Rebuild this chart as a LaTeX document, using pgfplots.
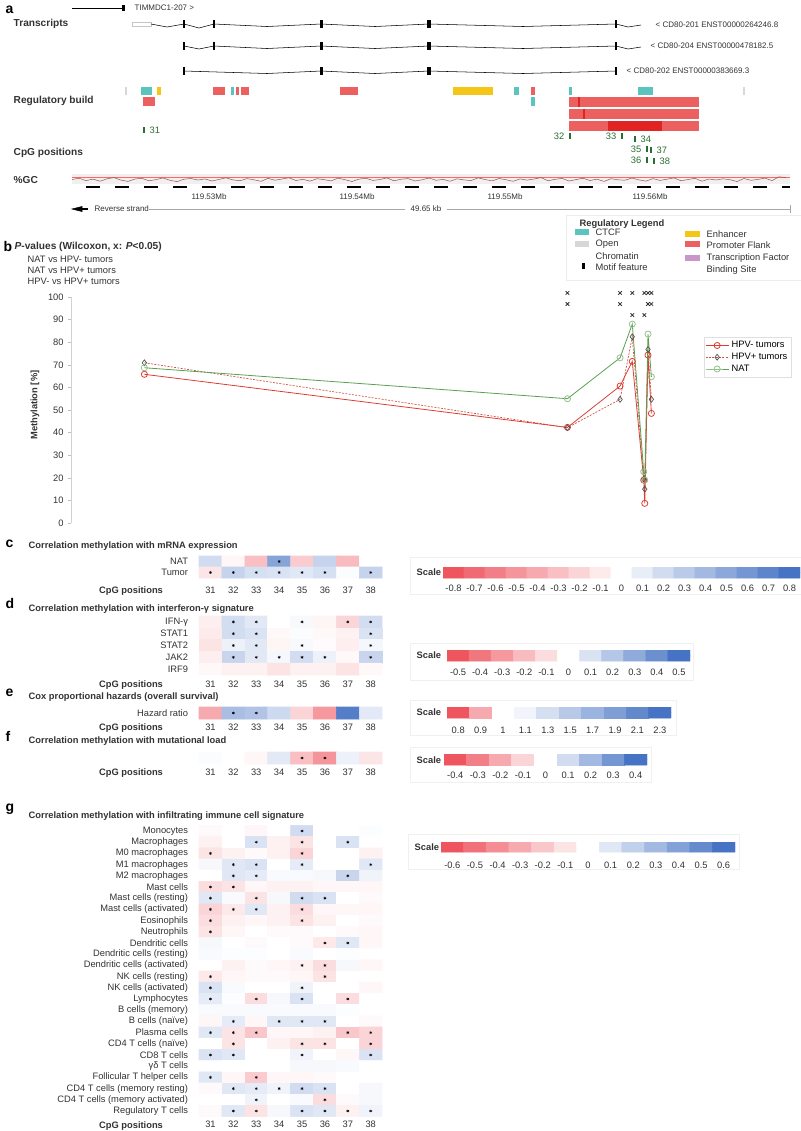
\documentclass[border=0pt]{standalone}
\usepackage{pgfplots}
\pgfplotsset{compat=1.18}
\usepackage{fontspec}
\setmainfont{Liberation Sans}
\definecolor{ctcf}{RGB}{92,196,190}
\definecolor{enh}{RGB}{245,197,24}
\definecolor{prom}{RGB}{236,96,96}
\definecolor{promd}{RGB}{225,35,35}
\definecolor{openc}{RGB}{215,215,215}
\definecolor{tfbs}{RGB}{200,150,200}
\definecolor{cpg}{RGB}{40,110,50}
\definecolor{hpvneg}{RGB}{222,60,50}
\definecolor{hpvpos}{RGB}{205,80,65}
\definecolor{natc}{RGB}{90,160,80}
\definecolor{txt}{RGB}{50,50,50}
\definecolor{gcline}{RGB}{160,70,55}
\pgfplotsset{colormap={hr}{rgb255(0cm)=(238,85,95) rgb255(2cm)=(255,255,255) rgb255(15cm)=(70,115,195)}}
\pgfplotsset{colormap={rb}{rgb255(0cm)=(238,85,95) rgb255(1cm)=(255,255,255) rgb255(2cm)=(70,115,195)}}
\pgfplotsset{/pgf/number format/assume math mode=true}
\newcommand{\fa}{\fontsize{7}{8}\selectfont}
\newcommand{\fb}{\fontsize{7}{8}\selectfont}
\newcommand{\fc}{\fontsize{7.6}{8.6}\selectfont}
\newcommand{\fsm}{\fontsize{6}{7}\selectfont}
\newcommand{\fl}{\fontsize{10.5}{11}\selectfont\bfseries}
\newcommand{\rect}[5]{\addplot[draw=none, fill=#5] coordinates {(#1,#3) (#2,#3) (#2,#4) (#1,#4)} -- cycle;}
\newcommand{\seg}[4]{\addplot[black, line width=0.4pt] coordinates {(#1,#2) (#3,#4)};}
\pgfplotsset{
  heat/.style={scale only axis, width=137.4pt, xmin=30.5, xmax=38.5, y dir=reverse,
    axis line style={draw=none}, major tick length=0pt, xtick={31,...,38},
    xticklabels={31,32,33,34,35,36,37,38}, tick label style={font=\fa, text=txt},
    yticklabel style={xshift=-4.7pt}, colormap name=rb, clip=false, enlargelimits=false},
  sc/.style={scale only axis, ymin=-0.5, ymax=1.5, axis line style={draw=none},
    major tick length=0pt, ytick=\empty, colormap name=rb, tick label style={font=\fa, text=txt},
    enlargelimits=false, xticklabel style={yshift=-2pt}},
  star/.style={only marks, mark=asterisk, mark size=1.1pt, black, mark options={line width=0.35pt}},
}
\begin{document}
\begin{tikzpicture}[x=0.75pt,y=-0.75pt]
\path[use as bounding box] (0,0) rectangle (800,1131);
% ---------------- overlay in pixel coordinates: panel a, legends, titles
\begin{axis}[at={(0pt,0pt)}, anchor=north west, scale only axis, width=600pt, height=848.25pt,
  xmin=0, xmax=800, ymin=0, ymax=1131, y dir=reverse, hide axis, clip=false]
\node[anchor=west, font=\fl] at (1,10) {a};
% TIMMDC1
\seg{72}{8}{122}{8}
\rect{122}{124.5}{5}{11}{black}
\node[anchor=west, font=\fsm, text=txt] at (130,8) {TIMMDC1-207 >};
\node[anchor=west, font=\bfseries\fc, text=txt] at (9,24) {Transcripts};
% transcript 1
\addplot[draw=gray!45, line width=0.4pt] coordinates {(132,22) (151,22) (151,26) (132,26)} -- cycle;
\addplot[black, line width=0.4pt] coordinates {(151,24) (167,27) (184,24) (199,28) (214,24) (267,26.5) (321,24) (375,26.5) (429,24) (523,26.5) (616,24) (628,27) (641,25)};
\rect{183.3}{184.7}{20}{28}{black}
\rect{213.3}{214.7}{20}{28}{black}
\rect{319.5}{323}{20}{28}{black}
\rect{427}{430.5}{20}{28}{black}
\rect{615.3}{616.7}{20}{28}{black}
\node[anchor=west, font=\fsm, text=txt] at (651,25) {< CD80-201 ENST00000264246.8};
% transcript 2
\addplot[black, line width=0.4pt] coordinates {(184,46) (199,49) (214,46) (267,48.5) (321,46) (375,48.5) (429,46) (523,48.5) (616,46) (628,49) (641,47)};
\rect{183.3}{184.7}{42}{50}{black}
\rect{213.3}{214.7}{42}{50}{black}
\rect{319.5}{323}{42}{50}{black}
\rect{427}{430.5}{42}{50}{black}
\rect{615.3}{616.7}{42}{50}{black}
\node[anchor=west, font=\fsm, text=txt] at (646,46) {< CD80-204 ENST00000478182.5};
% transcript 3
\addplot[black, line width=0.4pt] coordinates {(184,71) (267,73.5) (321,71) (375,73.5) (429,71) (523,73.5) (616,71)};
\rect{183.3}{184.7}{67}{75}{black}
\rect{319.5}{323}{67}{75}{black}
\rect{427}{430.5}{67}{75}{black}
\rect{615.3}{616.7}{67}{75}{black}
\node[anchor=west, font=\fsm, text=txt] at (622,71) {< CD80-202 ENST00000383669.3};
% regulatory build
\rect{124.5}{126.5}{87}{95}{openc}
\rect{141}{152}{87}{95}{ctcf}
\rect{157}{161}{87}{95}{enh}
\rect{213}{225}{87}{95}{prom}
\rect{231}{234}{87}{95}{ctcf}
\rect{236}{239}{87}{95}{prom}
\rect{241}{249}{87}{95}{prom}
\rect{340}{358}{87}{95}{prom}
\rect{453}{493}{87}{95}{enh}
\rect{514}{519}{87}{95}{ctcf}
\rect{531}{535}{87}{95}{prom}
\rect{569}{572}{87}{95}{ctcf}
\rect{638}{653}{87}{95}{ctcf}
\rect{743}{745}{87}{95}{openc}
\rect{143}{155}{97}{106}{prom}
\rect{531}{535}{97}{106}{ctcf}
\rect{569}{699}{97}{107}{prom}
\rect{569}{699}{109}{119}{prom}
\rect{569}{699}{121}{131}{prom}
\rect{578}{580}{97}{107}{promd}
\rect{583}{585}{109}{119}{promd}
\rect{608}{662}{121}{131}{promd}
\node[anchor=west, font=\bfseries\fc, text=txt] at (9,101) {Regulatory build};
% CpG positions
\addplot[cpg, line width=0.8pt] coordinates {(144,127) (144,133)};
\addplot[cpg, line width=0.8pt] coordinates {(570,133) (570,139)};
\addplot[cpg, line width=0.8pt] coordinates {(622,133) (622,139)};
\addplot[cpg, line width=0.8pt] coordinates {(635,136) (635,142)};
\addplot[cpg, line width=0.8pt] coordinates {(647,146) (647,152)};
\addplot[cpg, line width=0.8pt] coordinates {(651,147) (651,153)};
\addplot[cpg, line width=0.8pt] coordinates {(647,157) (647,163)};
\addplot[cpg, line width=0.8pt] coordinates {(654,158) (654,164)};
\node[anchor=west, font=\fb, text=cpg] at (145,130) {31};
\node[anchor=east, font=\fb, text=cpg] at (569,136) {32};
\node[anchor=east, font=\fb, text=cpg] at (621,136) {33};
\node[anchor=west, font=\fb, text=cpg] at (636,139) {34};
\node[anchor=east, font=\fb, text=cpg] at (646,149) {35};
\node[anchor=west, font=\fb, text=cpg] at (652,150) {37};
\node[anchor=east, font=\fb, text=cpg] at (646,160) {36};
\node[anchor=west, font=\fb, text=cpg] at (655,161) {38};
\node[anchor=west, font=\bfseries\fc, text=txt] at (9,153) {CpG positions};
% GC track
\node[anchor=west, font=\bfseries\fc, text=txt] at (9,180) {\%GC};
\rect{72}{790}{174}{184}{gray!12}
\addplot[red!60, line width=0.3pt] coordinates {(72,177.5) (790,177.5)};
\addplot[gcline, line width=0.35pt] coordinates {
(72,179.5) (79,178.2) (86,180.6) (93,179.1) (100,181.2) (107,178.8) (114,177.6) (121,180.1) (128,181.4) (135,179.0)
(142,178.3) (149,180.8) (156,179.6) (163,177.9) (170,180.3) (177,181.6) (184,179.2) (191,178.5) (198,180.0) (205,178.9)
(212,181.0) (219,179.4) (226,177.8) (233,179.9) (240,180.7) (247,178.6) (254,179.8) (261,181.3) (268,178.4) (275,180.2)
(282,179.0) (289,177.7) (296,180.5) (303,179.3) (310,181.1) (317,178.7) (324,179.6) (331,180.9) (338,178.1) (345,179.7)
(352,181.5) (359,179.1) (366,178.3) (373,180.4) (380,179.5) (387,177.9) (394,180.8) (401,179.2) (408,178.6) (415,181.0)
(422,179.8) (429,178.0) (436,180.3) (443,179.4) (450,181.2) (457,178.8) (464,179.9) (471,180.6) (478,177.8) (485,179.5)
(492,180.9) (499,178.5) (506,179.7) (513,181.3) (520,178.9) (527,180.1) (534,179.0) (541,177.6) (548,180.7) (555,179.3)
(562,178.4) (569,181.0) (576,179.6) (583,178.2) (590,180.5) (597,179.1) (604,181.4) (611,178.7) (618,179.8) (625,180.2)
(632,178.0) (639,179.9) (646,181.1) (653,178.6) (660,180.4) (667,179.2) (674,177.9) (681,180.8) (688,179.5) (695,178.3)
(702,181.2) (709,179.0) (716,180.0) (723,178.8) (730,179.7) (737,181.5) (744,178.5) (751,180.3) (758,179.4) (765,178.1)
(772,180.6) (779,176.8) (786,177.5)};
\addplot[black, line width=2.2pt, dash pattern=on 10.5pt off 11.25pt] coordinates {(86,187) (790,187)};
\node[font=\fsm, text=txt] at (209,197) {119.53Mb};
\node[font=\fsm, text=txt] at (357,197) {119.54Mb};
\node[font=\fsm, text=txt] at (505,197) {119.55Mb};
\node[font=\fsm, text=txt] at (650,197) {119.56Mb};
\addplot[black, fill=black] coordinates {(72,209) (82,206.5) (82,211.5)} -- cycle;
\addplot[black, line width=1pt] coordinates {(80,209) (88,209)};
\node[anchor=west, font=\fsm, text=txt] at (90,209) {Reverse strand};
\addplot[gray!70, line width=0.4pt] coordinates {(149,209) (405,209)};
\node[font=\fsm, text=txt] at (426,209) {49.65 kb};
\addplot[gray!70, line width=0.4pt] coordinates {(447,209) (790,209)};
\addplot[gray!70, line width=0.4pt] coordinates {(790,205) (790,213)};
% regulatory legend
\addplot[draw=gray!15, fill=white] coordinates {(566,215) (802,215) (802,280) (566,280)} -- cycle;
\node[anchor=west, font=\bfseries\fa, text=txt] at (575,224) {Regulatory Legend};
\rect{575}{589}{229}{235}{ctcf}
\node[anchor=west, font=\fb, text=txt] at (591,232) {CTCF};
\rect{575}{589}{241}{247}{openc}
\node[anchor=west, font=\fb, text=txt] at (591,244) {Open};
\node[anchor=west, font=\fb, text=txt] at (591,256) {Chromatin};
\rect{582}{585}{263}{269}{black}
\node[anchor=west, font=\fb, text=txt] at (591,267) {Motif feature};
\rect{685}{700}{231}{237}{enh}
\node[anchor=west, font=\fb, text=txt] at (702,234) {Enhancer};
\rect{685}{700}{241}{247}{prom}
\node[anchor=west, font=\fb, text=txt] at (702,245) {Promoter Flank};
\rect{685}{700}{255}{261}{tfbs}
\node[anchor=west, font=\fb, text=txt] at (702,258) {Transcription Factor};
\node[anchor=west, font=\fb, text=txt] at (702,270) {Binding Site};
% panel b texts
\node[anchor=west, font=\fl] at (-1,246) {b};
\node[anchor=west, font=\bfseries\fc, text=txt] at (10,247) {\textit{P}-values (Wilcoxon, x: \textit{P}<0.05)};
\node[anchor=west, font=\fb, text=txt] at (23,259) {NAT vs HPV- tumors};
\node[anchor=west, font=\fb, text=txt] at (23,270) {NAT vs HPV+ tumors};
\node[anchor=west, font=\fb, text=txt] at (23,281) {HPV- vs HPV+ tumors};
\node[rotate=90, font=\bfseries\fa, text=txt] at (35,405) {Methylation [\%]};
% panel letters and titles c-g
\node[anchor=west, font=\fl] at (1,544) {c};
\node[anchor=west, font=\bfseries\fa, text=txt] at (24,546) {Correlation methylation with mRNA expression};
\node[anchor=west, font=\fl] at (1,603) {d};
\node[anchor=west, font=\bfseries\fa, text=txt] at (24,609) {Correlation methylation with interferon-γ signature};
\node[anchor=west, font=\fl] at (1,693) {e};
\node[anchor=west, font=\bfseries\fa, text=txt] at (24,697) {Cox proportional hazards (overall survival)};
\node[anchor=west, font=\fl] at (1,736) {f};
\node[anchor=west, font=\bfseries\fa, text=txt] at (24,741) {Correlation methylation with mutational load};
\node[anchor=west, font=\fl] at (1,809) {g};
\node[anchor=west, font=\bfseries\fa, text=txt] at (24,816) {Correlation methylation with infiltrating immune cell signature};
% scale boxes
\addplot[draw=gray!12, fill=white] coordinates {(410,557) (802,557) (802,594) (410,594)} -- cycle;
\node[anchor=west, font=\bfseries\fa, text=txt] at (412,572) {Scale};
\addplot[draw=gray!12, fill=white] coordinates {(410,643) (693,643) (693,680) (410,680)} -- cycle;
\node[anchor=west, font=\bfseries\fa, text=txt] at (412,655) {Scale};
\addplot[draw=gray!12, fill=white] coordinates {(410,700) (676,700) (676,735) (410,735)} -- cycle;
\node[anchor=west, font=\bfseries\fa, text=txt] at (412,712) {Scale};
\addplot[draw=gray!12, fill=white] coordinates {(410,747) (651,747) (651,782) (410,782)} -- cycle;
\node[anchor=west, font=\bfseries\fa, text=txt] at (412,760) {Scale};
\addplot[draw=gray!12, fill=white] coordinates {(408,834) (739,834) (739,869) (408,869)} -- cycle;
\node[anchor=west, font=\bfseries\fa, text=txt] at (410,847) {Scale};
\end{axis}

% ---------------- panel b: methylation along the locus (x in kb after 119.50 Mb)
\begin{axis}[at={(53.25pt,-392.25pt)}, anchor=south west, scale only axis, width=546.75pt, height=169.5pt,
  xmin=20.61, xmax=70.20, ymin=0, ymax=100, axis x line=none, axis y line=left,
  y axis line style={draw=gray!35, -}, ytick={0,10,...,100}, major tick length=2pt,
  tick align=outside, ytick style={gray!50}, yticklabel style={font=\fb, text=txt},
  clip=false,
  legend style={at={(axis description cs:0.868,0.823)}, anchor=north west, draw=gray!25,
    fill=white, font=\fb, inner sep=1pt, row sep=-1.5pt, cells={anchor=west}}]
\addplot[hpvneg, line width=0.6pt, mark=o, mark size=2.3pt] coordinates {
(25.60,65.8) (54.38,42.3) (57.96,60.6) (58.79,71.5) (59.57,19.0) (59.64,8.7) (59.86,74.3) (60.09,48.5)};
\addplot[hpvpos, line width=0.5pt, dash pattern=on 1.5pt off 1pt, mark=diamond, mark size=2.2pt,
  mark options={solid, draw=black!70}] coordinates {
(25.60,70.9) (54.38,42.2) (57.96,54.7) (58.79,82.4) (59.57,19.5) (59.64,15.0) (59.86,76.8) (60.09,54.7)};
\addplot[natc, line width=0.6pt, mark=o, mark size=2.3pt, mark options={draw=natc!65!white}] coordinates {
(25.60,68.7) (54.38,55.0) (57.96,73.1) (58.79,88.0) (59.57,22.7) (59.64,19.0) (59.86,83.6) (60.09,64.7)};
\legend{HPV- tumors, HPV+ tumors, NAT}
% significance marks: NAT vs HPV-, NAT vs HPV+, HPV- vs HPV+
\addplot[forget plot, only marks, mark=x, mark size=1.9pt, black!80, mark options={line width=0.6pt}] coordinates {
(54.38,101.8) (57.96,101.8) (58.79,101.8) (59.61,101.8) (59.86,101.8) (60.09,101.8)
(54.38,96.9) (57.96,96.9) (59.86,96.9) (60.09,96.9)
(58.79,92.0) (59.61,92.0)};
\end{axis}

% ---------------- panel c
\begin{axis}[heat, at={(149.25pt,-417pt)}, anchor=north west, height=16.5pt, ymin=-0.5, ymax=1.5,
  ytick={0,1}, yticklabels={NAT,Tumor}, point meta min=-0.8, point meta max=0.8,
  xticklabel style={yshift=-3pt}]
\addplot[matrix plot*, point meta=explicit, mesh/cols=8] table[meta=c] {
x y c
31 0 0.20
32 0 -0.04
33 0 -0.30
34 0 0.52
35 0 -0.24
36 0 0.25
37 0 -0.32
38 0 0.00
31 1 -0.12
32 1 0.25
33 1 0.18
34 1 0.16
35 1 0.13
36 1 0.18
37 1 0.02
38 1 0.25
};
\addplot[star] coordinates {(34,0) (31,1) (32,1) (33,1) (34,1) (35,1) (36,1) (38,1)};
\node[anchor=north east, font=\bfseries\fa, text=txt, yshift=-3pt] at (axis cs:29.13,1.5) {CpG positions};
\end{axis}
\begin{axis}[sc, at={(332.25pt,-425.25pt)}, anchor=north west, width=267.75pt, height=8.25pt, xmin=0.5, xmax=17.5,
  point meta min=-0.8, point meta max=0.8, xtick={1,...,17},
  xticklabels={-0.8,-0.7,-0.6,-0.5,-0.4,-0.3,-0.2,-0.1,0,0.1,0.2,0.3,0.4,0.5,0.6,0.7,0.8},
  xticklabel style={yshift=0pt}]
\addplot[matrix plot*, point meta=explicit, mesh/cols=17] table[meta=c] {
x y c
1 0 -0.8
2 0 -0.7
3 0 -0.6
4 0 -0.5
5 0 -0.4
6 0 -0.3
7 0 -0.2
8 0 -0.1
9 0 0
10 0 0.1
11 0 0.2
12 0 0.3
13 0 0.4
14 0 0.5
15 0 0.6
16 0 0.7
17 0 0.8
1 1 -0.8
2 1 -0.7
3 1 -0.6
4 1 -0.5
5 1 -0.4
6 1 -0.3
7 1 -0.2
8 1 -0.1
9 1 0
10 1 0.1
11 1 0.2
12 1 0.3
13 1 0.4
14 1 0.5
15 1 0.6
16 1 0.7
17 1 0.8
};
\end{axis}

% ---------------- panel d
\begin{axis}[heat, at={(149.25pt,-462pt)}, anchor=north west, height=44.25pt, ymin=-0.5, ymax=4.5,
  ytick={0,...,4}, yticklabels={IFN-γ,STAT1,STAT2,JAK2,IRF9}, point meta min=-0.5, point meta max=0.5,
  xticklabel style={yshift=-1pt}]
\addplot[matrix plot*, point meta=explicit, mesh/cols=8] table[meta=c] {
x y c
31 0 -0.05
32 0 0.12
33 0 0.08
34 0 0.00
35 0 0.02
36 0 -0.03
37 0 -0.12
38 0 0.12
31 1 -0.06
32 1 0.12
33 1 0.10
34 1 -0.02
35 1 0.01
36 1 -0.02
37 1 -0.04
38 1 0.10
31 2 -0.08
32 2 0.05
33 2 0.08
34 2 -0.03
35 2 0.02
36 2 -0.01
37 2 -0.05
38 2 0.03
31 3 -0.05
32 3 0.15
33 3 0.08
34 3 0.03
35 3 0.12
36 3 0.05
37 3 -0.02
38 3 0.15
31 4 -0.02
32 4 -0.04
33 4 -0.04
34 4 -0.08
35 4 -0.04
36 4 -0.04
37 4 -0.08
38 4 -0.02
};
\addplot[star] coordinates {(32,0) (33,0) (35,0) (37,0) (38,0) (32,1) (33,1) (38,1)
 (32,2) (33,2) (35,2) (38,2) (32,3) (33,3) (34,3) (35,3) (36,3) (38,3)};
\node[anchor=north east, font=\bfseries\fa, text=txt, yshift=-1pt] at (axis cs:29.13,4.5) {CpG positions};
\end{axis}
\begin{axis}[sc, at={(335.25pt,-487.5pt)}, anchor=north west, width=182.25pt, height=8.25pt, xmin=0.5, xmax=11.5,
  point meta min=-0.5, point meta max=0.5, xtick={1,...,11},
  xticklabels={-0.5,-0.4,-0.3,-0.2,-0.1,0,0.1,0.2,0.3,0.4,0.5}, xticklabel style={yshift=-0.5pt}]
\addplot[matrix plot*, point meta=explicit, mesh/cols=11] table[meta=c] {
x y c
1 0 -0.5
2 0 -0.4
3 0 -0.3
4 0 -0.2
5 0 -0.1
6 0 0
7 0 0.1
8 0 0.2
9 0 0.3
10 0 0.4
11 0 0.5
1 1 -0.5
2 1 -0.4
3 1 -0.3
4 1 -0.2
5 1 -0.1
6 1 0
7 1 0.1
8 1 0.2
9 1 0.3
10 1 0.4
11 1 0.5
};
\end{axis}

% ---------------- panel e
\begin{axis}[heat, at={(149.25pt,-530.25pt)}, anchor=north west, height=9pt, ymin=-0.5, ymax=1.5,
  ytick={0.5}, yticklabels={Hazard ratio}, colormap name=hr, point meta min=0.8, point meta max=2.3,
  xticklabel style={yshift=0pt}]
\addplot[matrix plot*, point meta=explicit, mesh/cols=8] table[meta=c] {
x y c
31 0 0.90
32 0 1.60
33 0 1.55
34 0 1.35
35 0 0.95
36 0 0.88
37 0 2.20
38 0 1.20
31 1 0.90
32 1 1.60
33 1 1.55
34 1 1.35
35 1 0.95
36 1 0.88
37 1 2.20
38 1 1.20
};
\addplot[star] coordinates {(32,0.5) (33,0.5)};
\node[anchor=north east, font=\bfseries\fa, text=txt, yshift=0pt] at (axis cs:29.13,1.5) {CpG positions};
\end{axis}
\begin{axis}[sc, at={(335.25pt,-530.25pt)}, anchor=north west, width=168pt, height=8.25pt, xmin=0.5, xmax=10.5,
  colormap name=hr, point meta min=0.8, point meta max=2.3, xtick={1,...,10},
  xticklabels={0.8,0.9,1,1.1,1.3,1.5,1.7,1.9,2.1,2.3}, xticklabel style={yshift=-1.5pt}]
\addplot[matrix plot*, point meta=explicit, mesh/cols=10] table[meta=c] {
x y c
1 0 0.8
2 0 0.9
3 0 1.0
4 0 1.1
5 0 1.3
6 0 1.5
7 0 1.7
8 0 1.9
9 0 2.1
10 0 2.3
1 1 0.8
2 1 0.9
3 1 1.0
4 1 1.1
5 1 1.3
6 1 1.5
7 1 1.7
8 1 1.9
9 1 2.1
10 1 2.3
};
\end{axis}

% ---------------- panel f
\begin{axis}[heat, at={(149.25pt,-564pt)}, anchor=north west, height=9pt, ymin=-0.5, ymax=1.5,
  ytick=\empty, point meta min=-0.4, point meta max=0.4, xticklabel style={yshift=0pt}]
\addplot[matrix plot*, point meta=explicit, mesh/cols=8] table[meta=c] {
x y c
31 0 0.01
32 0 0.00
33 0 -0.02
34 0 0.06
35 0 -0.15
36 0 -0.25
37 0 0.04
38 0 -0.06
31 1 0.01
32 1 0.00
33 1 -0.02
34 1 0.06
35 1 -0.15
36 1 -0.25
37 1 0.04
38 1 -0.06
};
\addplot[star] coordinates {(35,0.5) (36,0.5)};
\node[anchor=north east, font=\bfseries\fa, text=txt, yshift=0pt] at (axis cs:29.13,1.5) {CpG positions};
\end{axis}
\begin{axis}[sc, at={(333pt,-565.5pt)}, anchor=north west, width=152.25pt, height=8.25pt, xmin=0.5, xmax=9.5,
  point meta min=-0.4, point meta max=0.4, xtick={1,...,9},
  xticklabels={-0.4,-0.3,-0.2,-0.1,0,0.1,0.2,0.3,0.4}, xticklabel style={yshift=0pt}]
\addplot[matrix plot*, point meta=explicit, mesh/cols=9] table[meta=c] {
x y c
1 0 -0.4
2 0 -0.3
3 0 -0.2
4 0 -0.1
5 0 0
6 0 0.1
7 0 0.2
8 0 0.3
9 0 0.4
1 1 -0.4
2 1 -0.3
3 1 -0.2
4 1 -0.1
5 1 0
6 1 0.1
7 1 0.2
8 1 0.3
9 1 0.4
};
\end{axis}

% ---------------- panel g
\begin{axis}[heat, at={(149.25pt,-619.05pt)}, anchor=north west, height=218.4pt, ymin=-0.5, ymax=25.5,
  ytick={0,...,25}, point meta min=-0.6, point meta max=0.6, xticklabel style={yshift=0pt},
  yticklabels={Monocytes,Macrophages,M0 macrophages,M1 macrophages,M2 macrophages,Mast cells,
    Mast cells (resting),Mast cells (activated),Eosinophils,Neutrophils,Dendritic cells,
    Dendritic cells (resting),Dendritic cells (activated),NK cells (resting),NK cells (activated),
    Lymphocytes,B cells (memory),B cells (naïve),Plasma cells,CD4 T cells (naïve),CD8 T cells,
    γδ T cells,Follicular T helper cells,CD4 T cells (memory resting),CD4 T cells (memory activated),
    Regulatory T cells}]
\addplot[matrix plot*, point meta=explicit, mesh/cols=8] table[meta=c] {
x y c
31 0 -0.02
32 0 0.00
33 0 -0.03
34 0 0.00
35 0 0.15
36 0 0.00
37 0 0.00
38 0 0.01
31 1 -0.05
32 1 0.00
33 1 0.12
34 1 -0.05
35 1 -0.10
36 1 0.00
37 1 0.12
38 1 0.00
31 2 -0.10
32 2 -0.05
33 2 -0.02
34 2 -0.05
35 2 -0.15
36 2 0.00
37 2 0.00
38 2 -0.05
31 3 0.03
32 3 0.10
33 3 0.12
34 3 0.00
35 3 0.08
36 3 0.00
37 3 0.00
38 3 0.10
31 4 0.00
32 4 0.10
33 4 0.08
34 4 0.02
35 4 0.02
36 4 0.03
37 4 0.18
38 4 0.05
31 5 -0.12
32 5 -0.10
33 5 -0.03
34 5 -0.05
35 5 -0.05
36 5 -0.03
37 5 -0.03
38 5 -0.03
31 6 0.10
32 6 0.02
33 6 -0.10
34 6 0.03
35 6 0.15
36 6 0.12
37 6 0.00
38 6 -0.02
31 7 -0.15
32 7 -0.08
33 7 0.10
34 7 -0.05
35 7 -0.12
36 7 -0.03
37 7 -0.03
38 7 -0.03
31 8 -0.12
32 8 -0.05
33 8 -0.03
34 8 -0.05
35 8 -0.10
36 8 -0.05
37 8 0.00
38 8 -0.02
31 9 -0.10
32 9 -0.03
33 9 0.00
34 9 -0.02
35 9 -0.02
36 9 0.00
37 9 -0.02
38 9 -0.03
31 10 0.03
32 10 0.00
33 10 -0.02
34 10 0.00
35 10 -0.02
36 10 -0.08
37 10 0.10
38 10 -0.03
31 11 0.02
32 11 0.01
33 11 0.01
34 11 0.00
35 11 0.02
36 11 0.00
37 11 0.01
38 11 0.00
31 12 0.00
32 12 -0.05
33 12 -0.02
34 12 -0.03
35 12 -0.05
36 12 -0.12
37 12 0.03
38 12 -0.03
31 13 -0.08
32 13 -0.03
33 13 -0.02
34 13 -0.02
35 13 -0.03
36 13 -0.10
37 13 0.00
38 13 0.00
31 14 0.12
32 14 0.02
33 14 0.00
34 14 0.00
35 14 0.05
36 14 0.00
37 14 0.00
38 14 -0.03
31 15 0.08
32 15 0.01
33 15 -0.12
34 15 0.03
35 15 0.12
36 15 0.00
37 15 -0.12
38 15 0.00
31 16 0.02
32 16 0.02
33 16 0.02
34 16 0.02
35 16 0.02
36 16 0.02
37 16 0.01
38 16 0.00
31 17 -0.03
32 17 0.08
33 17 -0.03
34 17 0.10
35 17 0.10
36 17 0.10
37 17 0.00
38 17 -0.02
31 18 0.10
32 18 -0.10
33 18 -0.20
34 18 -0.03
35 18 -0.03
36 18 -0.05
37 18 -0.20
38 18 -0.15
31 19 0.00
32 19 -0.10
33 19 0.00
34 19 -0.05
35 19 -0.10
36 19 -0.10
37 19 0.00
38 19 -0.15
31 20 0.12
32 20 0.10
33 20 0.00
34 20 0.00
35 20 0.05
36 20 0.00
37 20 -0.03
38 20 0.12
31 21 0.00
32 21 0.00
33 21 0.00
34 21 0.00
35 21 0.03
36 21 0.03
37 21 0.02
38 21 0.00
31 22 0.10
32 22 -0.03
33 22 -0.18
34 22 -0.03
35 22 -0.03
36 22 -0.02
37 22 0.00
38 22 0.00
31 23 -0.02
32 23 0.10
33 23 0.08
34 23 0.05
35 23 0.15
36 23 0.12
37 23 0.00
38 23 0.03
31 24 0.00
32 24 0.00
33 24 0.05
34 24 0.00
35 24 0.02
36 24 -0.12
37 24 -0.02
38 24 0.03
31 25 -0.02
32 25 0.10
33 25 -0.10
34 25 0.03
35 25 0.12
36 25 0.10
37 25 -0.05
38 25 0.05
};
\addplot[star] coordinates {
(35,0) (33,1) (35,1) (37,1) (31,2) (35,2) (32,3) (33,3) (35,3) (38,3)
(32,4) (33,4) (37,4) (31,5) (32,5) (31,6) (33,6) (35,6) (36,6)
(31,7) (32,7) (33,7) (35,7) (31,8) (35,8) (31,9) (36,10) (37,10)
(35,12) (36,12) (31,13) (36,13) (31,14) (35,14) (31,15) (33,15) (35,15) (37,15)
(32,17) (34,17) (35,17) (36,17) (31,18) (32,18) (33,18) (37,18) (38,18)
(32,19) (35,19) (36,19) (38,19) (31,20) (32,20) (35,20) (38,20) (31,22) (33,22)
(32,23) (33,23) (34,23) (35,23) (36,23) (33,24) (36,24)
(32,25) (33,25) (35,25) (36,25) (37,25) (38,25)};
\node[anchor=north east, font=\bfseries\fa, text=txt, yshift=0pt] at (axis cs:29.13,25.5) {CpG positions};
\end{axis}
\begin{axis}[sc, at={(330.75pt,-631.5pt)}, anchor=north west, width=220.5pt, height=7.5pt, xmin=0.5, xmax=13.5,
  point meta min=-0.6, point meta max=0.6, xtick={1,...,13},
  xticklabels={-0.6,-0.5,-0.4,-0.3,-0.2,-0.1,0,0.1,0.2,0.3,0.4,0.5,0.6}, xticklabel style={yshift=-2pt}]
\addplot[matrix plot*, point meta=explicit, mesh/cols=13] table[meta=c] {
x y c
1 0 -0.6
2 0 -0.5
3 0 -0.4
4 0 -0.3
5 0 -0.2
6 0 -0.1
7 0 0
8 0 0.1
9 0 0.2
10 0 0.3
11 0 0.4
12 0 0.5
13 0 0.6
1 1 -0.6
2 1 -0.5
3 1 -0.4
4 1 -0.3
5 1 -0.2
6 1 -0.1
7 1 0
8 1 0.1
9 1 0.2
10 1 0.3
11 1 0.4
12 1 0.5
13 1 0.6
};
\end{axis}
\end{tikzpicture}
\end{document}
